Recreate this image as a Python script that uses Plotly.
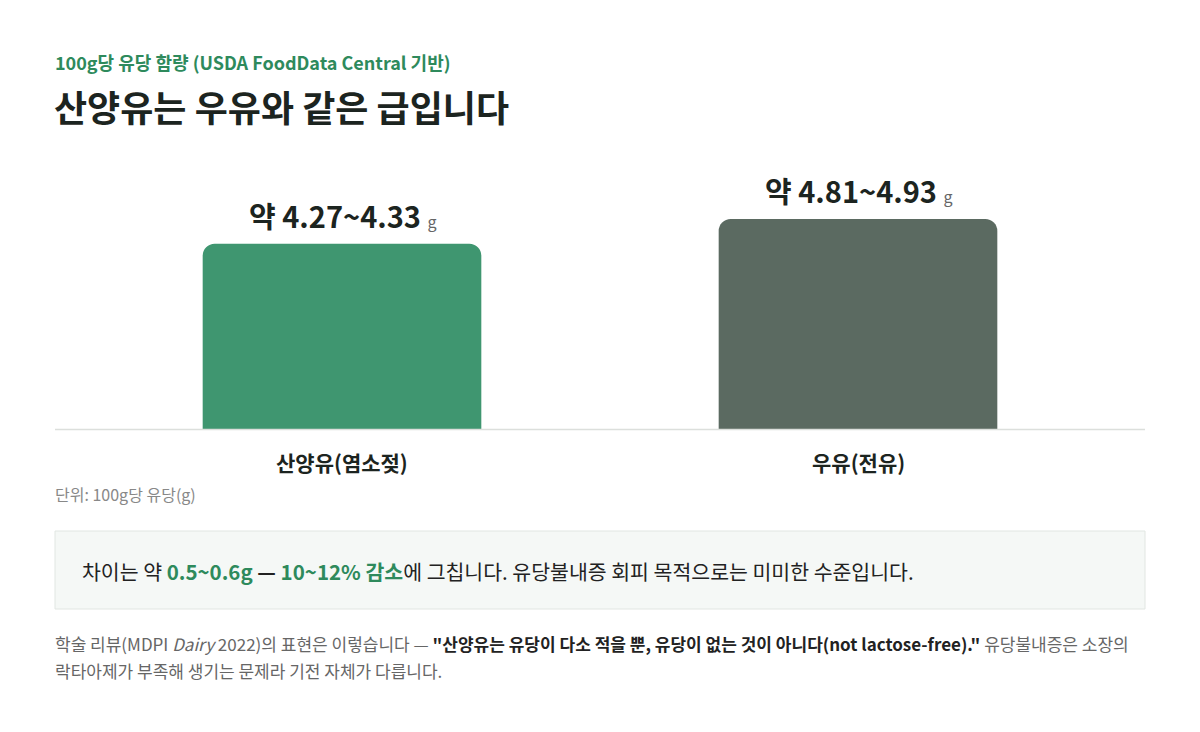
import plotly.graph_objects as go

categories = ["산양유(염소젖)", "우유(전유)"]
low = [4.27, 4.81]
high = [4.33, 4.93]
mid = [(a + b) / 2 for a, b in zip(low, high)]
colors = ["#3f9670", "#5b6a61"]

W, H = 1200, 732
OFF = 8
def px(x): return (x - OFF) / W
def py(y): return 1 - (y - OFF) / H

FONT = "Noto Sans CJK KR"
fig = go.Figure()
fig.add_bar(x=categories, y=mid, marker=dict(color=colors, cornerradius=12, line=dict(width=0)),
            width=0.54, hoverinfo="skip")

labels = [f"<b>약 {a:.2f}~{b:.2f}</b> <span style='font-size:16px;color:#666'>g</span>" for a, b in zip(low, high)]
for c, v, t in zip(categories, mid, labels):
    fig.add_annotation(x=c, y=v, text=t, showarrow=False, yanchor="bottom", yshift=6,
                       font=dict(size=29, color="#1c2420", family=FONT))
for c in categories:
    fig.add_annotation(x=c, y=0, text=f"<b>{c}</b>", showarrow=False, yanchor="top", yshift=-16,
                       font=dict(size=21, color="#1c2420", family=FONT))

fig.update_layout(
    width=W, height=H, margin=dict(l=0, r=0, t=0, b=0),
    paper_bgcolor="white", plot_bgcolor="white", showlegend=False,
    font=dict(family=FONT),
    xaxis=dict(domain=[px(84), px(1116)], range=[-0.5, 1.5], visible=False),
    yaxis=dict(domain=[py(429), py(179)], range=[0, 5.8], visible=False),
)
fig.add_shape(type="line", xref="paper", yref="paper", x0=px(55), x1=px(1145), y0=py(429.5), y1=py(429.5),
              line=dict(color="#dcdfdc", width=1.5))
fig.add_shape(type="rect", xref="paper", yref="paper", x0=px(55), x1=px(1145), y0=py(531), y1=py(609),
              fillcolor="#f5f8f6", line=dict(color="#e1e6e2", width=1))

def txt(x, y, text, size, color, anchor="left"):
    fig.add_annotation(xref="paper", yref="paper", x=px(x), y=py(y), text=text, showarrow=False,
                       xanchor=anchor, yanchor="middle", align="left",
                       font=dict(size=size, color=color, family=FONT))

txt(53, 62, "<b>100g당 유당 함량 (USDA FoodData Central 기반)</b>", 18, "#2e8a5c")
txt(52, 106, "<b>산양유는 우유와 같은 급입니다</b>", 36, "#1c2420")
txt(53, 494, "단위: 100g당 유당(g)", 16, "#888")
txt(80, 571, "차이는 약 <b><span style='color:#2e8a5c'>0.5~0.6g</span> — <span style='color:#2e8a5c'>10~12% 감소</span></b>에 그칩니다. 유당불내증 회피 목적으로는 미미한 수준입니다.", 20.5, "#222")
txt(53, 643, "학술 리뷰(MDPI <i>Dairy</i> 2022)의 표현은 이렇습니다 — <b><span style='color:#222'>\"산양유는 유당이 다소 적을 뿐, 유당이 없는 것이 아니다(not lactose-free).\"</span></b> 유당불내증은 소장의", 17, "#666")
txt(53, 670, "락타아제가 부족해 생기는 문제라 기전 자체가 다릅니다.", 17, "#666")

fig.write_html("out.html")
